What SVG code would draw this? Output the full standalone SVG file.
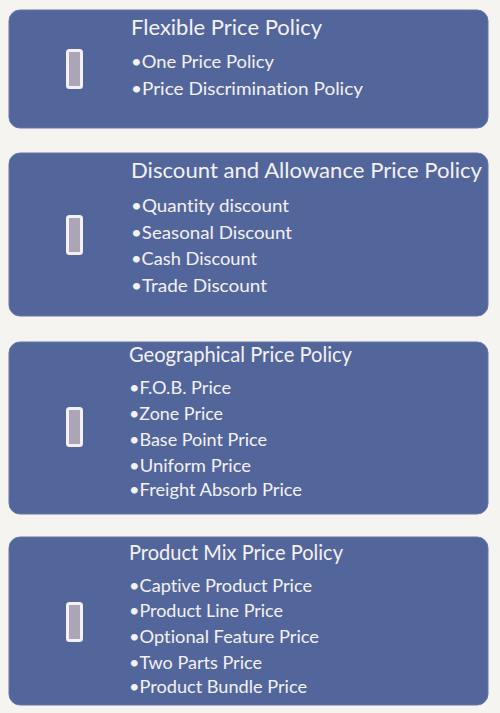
<svg xmlns="http://www.w3.org/2000/svg" width="500" height="713" viewBox="0 0 500 713">
<style>
.box{fill:#53669b;stroke:#6676a6;stroke-width:1}
.icon{fill:#aca5b8;stroke:#f3f1f5;stroke-width:3}
.t{font-family:Lato,"Open Sans","Liberation Sans",sans-serif;fill:#f3f1f3;font-size:22px;font-variant-ligatures:none}
.b{font-family:Lato,"Open Sans","Liberation Sans",sans-serif;fill:#f3f1f3;font-size:17.5px;font-variant-ligatures:none}
</style>
<rect width="500" height="713" fill="#f6f4f0"/>
<g id="flexible">
<rect class="box" x="9" y="10" width="479" height="118" rx="11"/>
<rect class="icon" x="67.5" y="50.5" width="14" height="37" rx="2"/>
<text class="t" x="131" y="35" textLength="191" lengthAdjust="spacingAndGlyphs">Flexible Price Policy</text>
<text class="b" x="131" y="68" textLength="143" lengthAdjust="spacingAndGlyphs">•One Price Policy</text>
<text class="b" x="131" y="95" textLength="232" lengthAdjust="spacingAndGlyphs">•Price Discrimination  Policy</text>
</g>
<g id="discount">
<rect class="box" x="9" y="153" width="479" height="163" rx="11"/>
<rect class="icon" x="67.5" y="216.5" width="14" height="37" rx="2"/>
<text class="t" x="131" y="178" textLength="351" lengthAdjust="spacingAndGlyphs">Discount and Allowance Price Policy</text>
<text class="b" x="131" y="212" textLength="158" lengthAdjust="spacingAndGlyphs">•Quantity discount</text>
<text class="b" x="131" y="239" textLength="161" lengthAdjust="spacingAndGlyphs">•Seasonal Discount</text>
<text class="b" x="131" y="265" textLength="126" lengthAdjust="spacingAndGlyphs">•Cash Discount</text>
<text class="b" x="131" y="292" textLength="136" lengthAdjust="spacingAndGlyphs">•Trade Discount</text>
</g>
<g id="geographical">
<rect class="box" x="9" y="342" width="479" height="172" rx="11"/>
<rect class="icon" x="67.5" y="408.5" width="14" height="37" rx="2"/>
<text class="t" x="129" y="362" textLength="223" lengthAdjust="spacingAndGlyphs">Geographical Price Policy</text>
<text class="b" x="129" y="394" textLength="102" lengthAdjust="spacingAndGlyphs">•F.O.B. Price</text>
<text class="b" x="129" y="420" textLength="94" lengthAdjust="spacingAndGlyphs">•Zone Price</text>
<text class="b" x="129" y="446" textLength="138" lengthAdjust="spacingAndGlyphs">•Base Point Price</text>
<text class="b" x="129" y="472" textLength="122" lengthAdjust="spacingAndGlyphs">•Uniform Price</text>
<text class="b" x="129" y="496" textLength="173" lengthAdjust="spacingAndGlyphs">•Freight Absorb Price</text>
</g>
<g id="productmix">
<rect class="box" x="9" y="537" width="479" height="168" rx="11"/>
<rect class="icon" x="67.5" y="603.5" width="14" height="37" rx="2"/>
<text class="t" x="129" y="560" textLength="214" lengthAdjust="spacingAndGlyphs">Product  Mix Price Policy</text>
<text class="b" x="129" y="592" textLength="183" lengthAdjust="spacingAndGlyphs">•Captive Product Price</text>
<text class="b" x="129" y="617" textLength="154" lengthAdjust="spacingAndGlyphs">•Product Line Price</text>
<text class="b" x="129" y="643" textLength="190" lengthAdjust="spacingAndGlyphs">•Optional Feature Price</text>
<text class="b" x="129" y="669" textLength="133" lengthAdjust="spacingAndGlyphs">•Two Parts Price</text>
<text class="b" x="129" y="693" textLength="178" lengthAdjust="spacingAndGlyphs">•Product Bundle Price</text>
</g>
<g id="connectors"/>
</svg>
